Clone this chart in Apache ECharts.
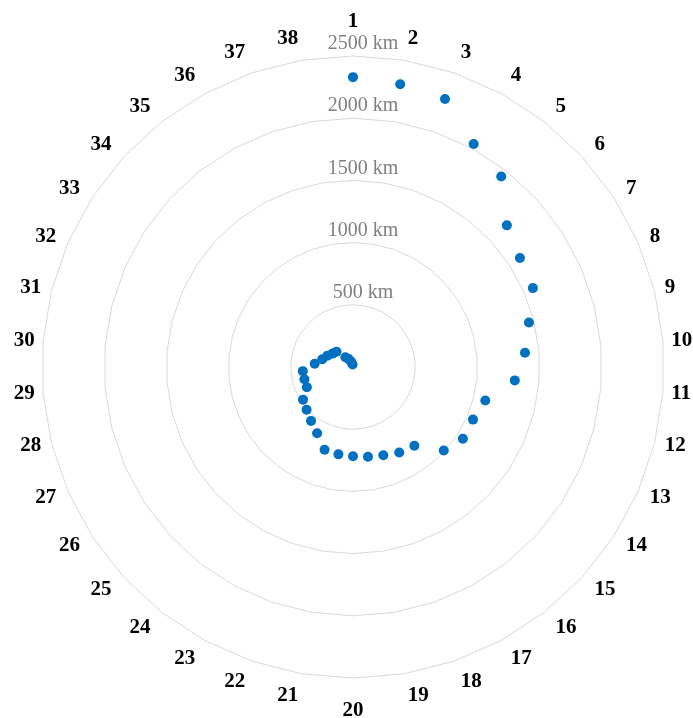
<!DOCTYPE html>
<html>
<head>
<meta charset="utf-8">
<script src="https://cdn.jsdelivr.net/npm/echarts@6/dist/echarts.min.js"></script>
<style>
  html, body { margin: 0; padding: 0; background: #fff; }
  #main { width: 693px; height: 718px; }
</style>
</head>
<body>
<div id="main"></div>
<script>
// spokes 1..38, clockwise from the top
const categories = ['1', '2', '3', '4', '5', '6', '7', '8', '9', '10',
  '11', '12', '13', '14', '15', '16', '17', '18', '19', '20',
  '21', '22', '23', '24', '25', '26', '27', '28', '29', '30',
  '31', '32', '33', '34', '35', '36', '37', '38']
// distance in km for each spoke
const distances = [2330, 2305, 2278, 2038, 1940, 1681, 1603, 1579, 1459, 1387,
  1305, 1097, 1053, 1055, 992, 803, 781, 750, 731, 718,
  712, 704, 606, 549, 507, 480, 405, 403, 405, 309,
  255, 225, 197, 180, 100, 72, 45, 20]
const maxKm = 2500

const chart = echarts.init(document.getElementById('main'))

// echarts lays indicators out counter-clockwise, so keep '1' on top and reverse the rest
const order = [0].concat(categories.map((c, i) => i).slice(1).reverse())

const indicator = order.map((i, k) => {
  const a = (2 * Math.PI * k) / categories.length
  const item = {
    name: categories[i],
    min: 0,
    max: maxKm,
    nameGap: 7 + 15 * Math.abs(Math.cos(a))
  }
  // ring labels only on the top spoke
  if (k === 0) item.axisLabel = { show: true }
  return item
})

const option = {
  animation: false,
  radar: {
    center: [353, 367],
    radius: 311,
    startAngle: 90,
    splitNumber: 5,
    shape: 'polygon',
    indicator: indicator,
    axisName: {
      color: '#000',
      fontFamily: 'Liberation Serif',
      fontSize: 21,
      fontWeight: 'bold'
    },
    axisLine: { show: false },
    axisTick: { show: false },
    splitLine: { lineStyle: { color: '#d9d9d9', width: 1 } },
    splitArea: { show: false },
    axisLabel: {
      show: false,
      color: '#7f7f7f',
      fontFamily: 'Liberation Serif',
      fontSize: 20,
      margin: -10,
      align: 'center',
      verticalAlign: 'bottom',
      lineHeight: 24,
      formatter: v => (v === 0 ? '' : v + ' km')
    }
  },
  series: [
    {
      type: 'radar',
      symbol: 'circle',
      symbolSize: 10,
      lineStyle: { width: 0, opacity: 0 },
      itemStyle: { color: '#0070C0' },
      data: [{ value: order.map(i => distances[i]) }]
    }
  ]
}

chart.setOption(option)
</script>
</body>
</html>
